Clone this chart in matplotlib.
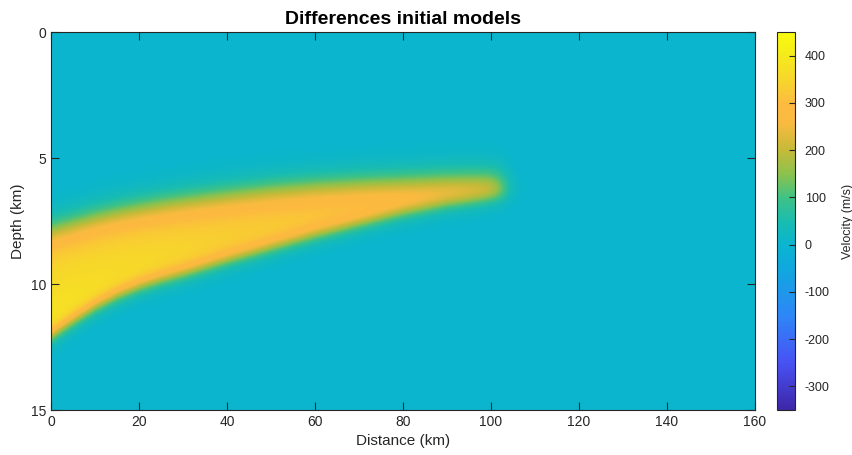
import numpy as np
import matplotlib
matplotlib.use("Agg")
import matplotlib.pyplot as plt
from matplotlib.colors import LinearSegmentedColormap

plt.rcParams['font.family'] = ['Liberation Sans', 'DejaVu Sans']
plt.rcParams['axes.unicode_minus'] = False

# slab outline (km): distance along profile, top and bottom depth
slab_dist = [0, 5, 10, 15, 20, 25, 30, 40, 50, 60, 70, 80, 90, 100, 104]
slab_top = [7.85, 7.6, 7.35, 7.15, 6.98, 6.83, 6.7, 6.47, 6.27, 6.12, 6.02, 5.95, 5.88, 5.85, 5.85]
slab_bot = [12.05, 11.45, 10.9, 10.45, 10.1, 9.82, 9.58, 9.05, 8.55, 8.05, 7.6, 7.15, 6.8, 6.55, 6.5]

# velocity difference inside the slab (m/s), at its top and bottom
amp_dist = [0, 20, 40, 60, 80, 100]
amp_top = [320, 320, 320, 320, 325, 330]
amp_bot = [400, 375, 350, 340, 335, 330]

slab_end = 103.0      # km
background = 0.0      # m/s
vmin, vmax = -350, 450

# parula-like colormap
parula = LinearSegmentedColormap.from_list('parula', [
    (0.000, (0.2422, 0.1504, 0.6603)),
    (0.125, (0.2810, 0.3228, 0.9579)),
    (0.250, (0.1786, 0.5289, 0.9682)),
    (0.375, (0.0600, 0.6600, 0.8700)),
    (0.4375, (0.0400, 0.7100, 0.8100)),
    (0.500, (0.1000, 0.7400, 0.6900)),
    (0.5625, (0.2500, 0.7600, 0.5200)),
    (0.625, (0.5500, 0.7600, 0.3000)),
    (0.690, (0.7800, 0.7300, 0.2200)),
    (0.760, (0.9800, 0.7300, 0.2500)),
    (0.810, (0.9900, 0.7300, 0.2500)),
    (0.875, (0.9700, 0.8400, 0.1700)),
    (0.940, (0.9600, 0.9200, 0.1100)),
    (1.000, (0.9763, 0.9831, 0.0538)),
], N=256)

x = np.linspace(0, 160, 641)
z = np.linspace(0, 15, 301)
X, Z = np.meshgrid(x, z)

top = np.interp(X, slab_dist, slab_top)
bot = np.interp(X, slab_dist, slab_bot)
frac = np.clip((Z - top) / (bot - top), 0, 1)
amp = np.interp(X, amp_dist, amp_top) * (1 - frac) + np.interp(X, amp_dist, amp_bot) * frac

# soft edges: wider at the top of the slab than at its base
w_top, w_bot, w_tip = 0.7, 0.42, 2.6
mask = 0.5 * (1 + np.tanh((Z - top) / w_top))
mask *= 0.5 * (1 + np.tanh((bot - Z) / w_bot))
mask *= 0.5 * (1 + np.tanh((slab_end - X) / w_tip))
vel = background + (amp - background) * mask

fig = plt.figure(figsize=(8.53, 4.55), dpi=100)
ax = fig.add_axes([51 / 853, 45 / 455, 704 / 853, 378 / 455])
cax = fig.add_axes([777 / 853, 45 / 455, 18 / 853, 378 / 455])

im = ax.imshow(vel, extent=[0, 160, 15, 0], aspect='auto', cmap=parula,
               vmin=vmin, vmax=vmax, interpolation='bilinear')
ax.set_xlim(0, 160)
ax.set_ylim(15, 0)
ax.set_xticks(np.arange(0, 161, 20))
ax.set_yticks([0, 5, 10, 15])
ax.tick_params(direction='in', length=6, top=True, right=True,
               labelsize=10, colors='#262626', width=0.8)
for s in ax.spines.values():
    s.set_color('#262626')
    s.set_linewidth(0.8)
ax.set_xlabel('Distance (km)', fontsize=11, color='#262626')
ax.set_ylabel('Depth (km)', fontsize=11, color='#262626')
ax.set_title('Differences initial models', fontsize=14, fontweight='bold', pad=6)

cb = fig.colorbar(im, cax=cax)
cb.set_ticks([-300, -200, -100, 0, 100, 200, 300, 400])
cb.ax.tick_params(direction='in', length=4, labelsize=9, colors='#262626',
                  width=0.8, pad=7)
cb.outline.set_edgecolor('#262626')
cb.outline.set_linewidth(0.8)
cb.set_label('Velocity (m/s)', fontsize=9, color='#262626', labelpad=9)

fig.savefig('out.png', dpi=100)
